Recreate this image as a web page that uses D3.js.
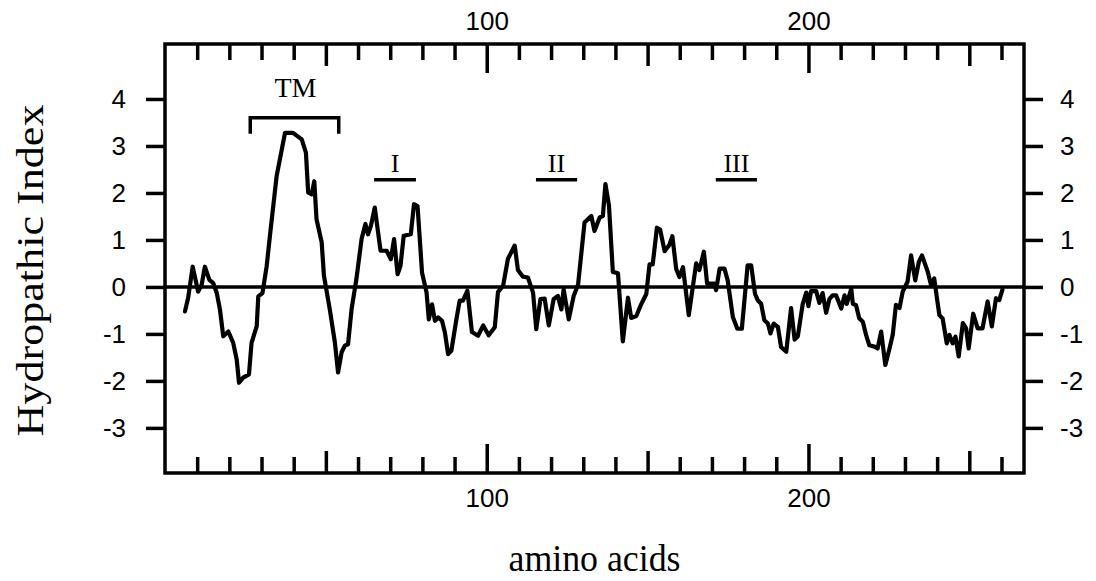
<!DOCTYPE html>
<html>
<head>
<meta charset="utf-8">
<script src="https://cdn.jsdelivr.net/npm/d3@7"></script>
<style>
  html, body { margin: 0; padding: 0; background: #fff; }
  svg { display: block; }
</style>
</head>
<body>
<svg id="chart" width="1096" height="581"></svg>
<script>
// ---- data ----
const positions = [6.2,7.2,8.6,10.3,11.4,12.4,13.8,15.0,16.1,17.1,18.1,19.7,21.2,22.3,23.0,24.3,26.1,26.9,28.5,29.0,
  30.3,31.6,32.6,34.7,37.3,39.8,42.5,43.8,44.5,45.6,46.4,47.1,48.7,49.4,51.2,52.8,53.8,54.9,55.9,56.9,
  58.0,59.5,61.1,62.3,63.1,64.0,65.2,67.0,68.9,70.2,71.2,72.3,73.2,74.2,76.4,77.4,78.5,79.9,81.3,82.0,
  83.0,83.9,84.9,86.1,87.0,88.0,89.0,90.6,91.6,92.6,94.0,95.4,97.3,98.9,100.6,102.5,103.5,105.1,106.6,108.7,
  109.7,111.2,112.8,114.4,115.4,116.7,118.0,119.3,120.8,122.1,123.2,123.9,125.5,127.0,128.4,130.4,132.5,133.5,135.1,136.1,
  136.9,138.0,139.2,140.8,142.3,143.9,144.9,146.5,148.0,149.6,150.6,151.6,152.9,153.9,155.3,156.8,157.7,158.9,159.9,161.0,
  162.8,165.1,166.1,167.5,168.5,170.8,171.3,172.4,173.9,174.9,176.5,177.9,179.3,181.1,182.2,183.4,184.3,185.3,186.3,187.4,
  188.2,189.2,190.5,191.5,193.1,194.6,195.7,196.7,198.2,199.3,200.0,200.8,202.4,203.4,204.4,205.5,206.5,207.5,208.6,210.2,
  211.2,211.9,213.3,213.8,214.8,215.8,216.9,217.9,218.9,220.5,221.5,222.6,223.9,225.2,226.2,227.2,228.3,229.3,230.8,231.9,
  233.2,234.3,235.3,237.1,238.1,239.1,239.8,240.7,241.7,243.0,243.8,244.8,245.7,246.7,248.0,249.0,249.8,251.2,252.6,254.1,
  255.7,257.0,258.3,259.3,260.3];
const hydropathy = [-0.52,-0.23,0.43,-0.10,0.05,0.43,0.15,0.08,-0.13,-0.49,-1.05,-0.95,-1.19,-1.55,-2.04,-1.93,-1.86,-1.19,-0.84,-0.20,
  -0.13,0.44,1.08,2.36,3.28,3.28,3.14,2.86,2.01,1.97,2.25,1.44,0.95,0.24,-0.47,-1.18,-1.82,-1.39,-1.25,-1.22,
  -0.47,0.17,1.02,1.34,1.12,1.30,1.69,0.77,0.77,0.59,1.02,0.27,0.45,1.09,1.12,1.76,1.72,0.30,-0.12,-0.69,
  -0.37,-0.72,-0.65,-0.72,-0.97,-1.43,-1.36,-0.68,-0.29,-0.29,-0.08,-0.96,-1.04,-0.82,-1.03,-0.86,-0.11,0.03,0.60,0.88,
  0.36,0.22,0.20,-0.12,-0.90,-0.26,-0.25,-0.82,-0.26,-0.19,-0.48,-0.05,-0.69,-0.20,0.05,1.37,1.51,1.19,1.48,1.51,
  2.19,1.73,0.32,0.29,-1.16,-0.23,-0.66,-0.62,-0.37,-0.15,0.48,0.48,1.26,1.22,0.76,0.90,1.08,0.38,0.21,0.42,
  -0.60,0.50,0.36,0.75,0.07,0.07,-0.07,0.39,0.39,0.14,-0.64,-0.89,-0.89,0.46,0.46,-0.15,-0.29,-0.36,-0.71,-0.78,
  -0.99,-0.78,-0.85,-1.28,-1.38,-0.45,-1.12,-1.05,-0.37,-0.12,-0.41,-0.09,-0.09,-0.34,-0.13,-0.55,-0.26,-0.18,-0.18,-0.46,
  -0.18,-0.36,-0.04,-0.36,-0.39,-0.67,-0.74,-1.02,-1.24,-1.27,-1.31,-0.95,-1.66,-1.31,-1.02,-0.38,-0.45,-0.10,0.11,0.67,
  0.14,0.53,0.67,0.32,0.04,0.18,-0.17,-0.60,-0.67,-1.20,-1.02,-1.20,-1.06,-1.48,-0.77,-0.88,-1.31,-0.57,-0.88,-0.88,
  -0.31,-0.84,-0.24,-0.28,-0.06];

const xTicks = d3.range(10, 261, 10);
const xTickLabels = [100, 200];
const yTicks = [-3, -2, -1, 0, 1, 2, 3, 4];

const regionNames = ["I", "II", "III"];
const regionStart = [65, 115.3, 171.2];
const regionEnd = [78, 128.1, 184];
const tmName = "TM";
const tmStart = 26.5, tmEnd = 54;

const xTitle = "amino acids";
const yTitle = "Hydropathic Index";

// ---- layout ----
const L = 165, R = 1024, T = 44, B = 473;
const svg = d3.select("#chart");

const x = d3.scaleLinear().domain([0, 267]).range([L, R]);
const y = d3.scaleLinear().domain([-3.96, 5.17]).range([B, T]);

const tickFont = "'Liberation Sans', Arial, Helvetica, sans-serif";
const serif = "'Liberation Serif', 'Times New Roman', serif";

function tickLen(d) { return d % 100 === 0 ? 29 : (d % 50 === 0 ? 22 : 16); }

// bottom axis (ticks pointing inward)
const gB = svg.append("g").attr("transform", `translate(0,${B})`)
  .call(d3.axisBottom(x).tickValues(xTicks).tickSizeInner(-16).tickSizeOuter(0).tickPadding(16)
    .tickFormat(d => xTickLabels.includes(d) ? String(d) : ""));
gB.selectAll(".tick line").attr("y2", d => -tickLen(d));

// top axis (ticks pointing inward)
const gT = svg.append("g").attr("transform", `translate(0,${T})`)
  .call(d3.axisTop(x).tickValues(xTicks).tickSizeInner(-16).tickSizeOuter(0).tickPadding(14)
    .tickFormat(d => xTickLabels.includes(d) ? String(d) : ""));
gT.selectAll(".tick line").attr("y2", d => tickLen(d));

// left axis
const gL = svg.append("g").attr("transform", `translate(${L},0)`)
  .call(d3.axisLeft(y).tickValues(yTicks).tickSize(19).tickPadding(20).tickFormat(d => String(d)));

// right axis
const gR = svg.append("g").attr("transform", `translate(${R},0)`)
  .call(d3.axisRight(y).tickValues(yTicks).tickSize(19).tickPadding(17).tickFormat(d => String(d)));

[gB, gT, gL, gR].forEach(g => {
  g.select(".domain").remove();
  g.selectAll(".tick line").attr("stroke", "#000").attr("stroke-width", 3.5);
  g.selectAll(".tick text").attr("fill", "#000")
    .style("font-family", tickFont).style("font-size", "26px");
});

// frame
svg.append("rect").attr("x", L).attr("y", T).attr("width", R - L).attr("height", B - T)
  .attr("fill", "none").attr("stroke", "#000").attr("stroke-width", 3.5);

// zero line
svg.append("line").attr("x1", L).attr("x2", R).attr("y1", y(0)).attr("y2", y(0))
  .attr("stroke", "#000").attr("stroke-width", 3.5);

// hydropathy line
const pts = positions.map((p, i) => [p, hydropathy[i]]);
svg.append("path").datum(pts)
  .attr("d", d3.line().x(d => x(d[0])).y(d => y(d[1])))
  .attr("fill", "none").attr("stroke", "#000").attr("stroke-width", 4.2)
  .attr("stroke-linejoin", "round").attr("stroke-linecap", "round");

// TM bracket
const brY = y(3.6), brEnd = y(3.26);
svg.append("path")
  .attr("d", `M${x(tmStart)},${brEnd}V${brY}H${x(tmEnd)}V${brEnd}`)
  .attr("fill", "none").attr("stroke", "#000").attr("stroke-width", 3.5);
svg.append("text").attr("x", x((tmStart + tmEnd) / 2) + 1).attr("y", 97)
  .attr("text-anchor", "middle").style("font-family", serif).style("font-size", "28px").text(tmName);

// region underlines
const ulY = y(2.28);
regionNames.forEach((n, i) => {
  svg.append("line").attr("x1", x(regionStart[i])).attr("x2", x(regionEnd[i]))
    .attr("y1", ulY).attr("y2", ulY).attr("stroke", "#000").attr("stroke-width", 3.5);
  svg.append("text").attr("x", x((regionStart[i] + regionEnd[i]) / 2)).attr("y", 172)
    .attr("text-anchor", "middle").style("font-family", serif).style("font-size", "26px").text(n);
});

// axis titles
svg.append("text").attr("x", (L + R) / 2).attr("y", 571).attr("text-anchor", "middle")
  .style("font-family", serif).style("font-size", "38px")
  .attr("textLength", 172).attr("lengthAdjust", "spacingAndGlyphs").text(xTitle);
svg.append("text").attr("transform", `translate(43,${(T + B) / 2 + 12}) rotate(-90)`)
  .attr("text-anchor", "middle")
  .style("font-family", serif).style("font-size", "38px")
  .attr("textLength", 332).attr("lengthAdjust", "spacingAndGlyphs").text(yTitle);
</script>
</body>
</html>
